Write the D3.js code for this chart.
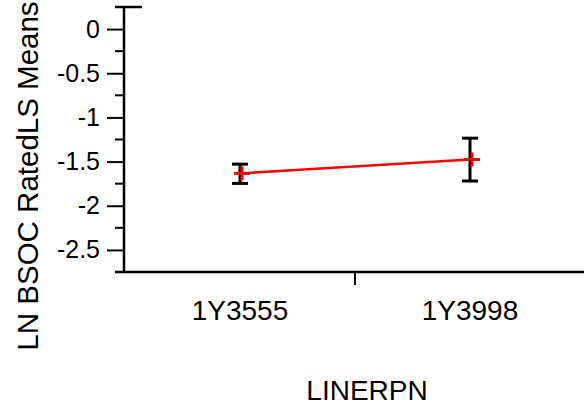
<!DOCTYPE html>
<html><head><meta charset="utf-8">
<script src="https://cdn.jsdelivr.net/npm/d3@7"></script>
<style>body{margin:0;background:#fff}svg{display:block}</style>
</head><body>
<script>
const categories = ["1Y3555", "1Y3998"];
const means = [-1.634, -1.476];
const upper = [-1.529, -1.235];
const lower = [-1.747, -1.720];
const yTicks = [0, -0.5, -1, -1.5, -2, -2.5];
const yMinorTicks = [0.25, -0.25, -0.75, -1.25, -1.75, -2.25, -2.75];
const xTitle = "LINERPN";
const yTitle = "LN BSOC RatedLS Means";

const W = 584, H = 406;
const svg = d3.select("body").append("svg").attr("width", W).attr("height", H);
const font = "Liberation Sans, Arial, sans-serif";

const x = d3.scalePoint().domain(categories).range([240, 470]).padding(0);
const y = d3.scaleLinear().domain([-2.75, 0.25]).range([272, 7]);

const left = 124;

// Y axis
const yAxis = svg.append("g").attr("transform", `translate(${left},0)`)
  .call(d3.axisLeft(y).tickValues(yTicks).tickSize(17).tickPadding(7)
    .tickFormat(d => d3.format("")(d).replace("−", "-")));
yAxis.select(".domain").remove();
yAxis.selectAll(".tick line").attr("stroke", "#000").attr("stroke-width", 2);
yAxis.selectAll(".tick text").attr("font-family", font).attr("font-size", 25).attr("fill", "#000");
yAxis.selectAll(".minor").data(yMinorTicks).enter().append("line")
  .attr("x1", -9).attr("x2", 0).attr("y1", d => y(d)).attr("y2", d => y(d))
  .attr("stroke", "#000").attr("stroke-width", 2);
svg.append("line").attr("x1", left).attr("x2", left).attr("y1", y(0.25)).attr("y2", y(-2.75))
  .attr("stroke", "#000").attr("stroke-width", 2.5);

// X axis
svg.append("line").attr("x1", 115).attr("x2", W).attr("y1", y(-2.75)).attr("y2", y(-2.75))
  .attr("stroke", "#000").attr("stroke-width", 2.5);
svg.append("line").attr("x1", 115).attr("x2", 142).attr("y1", y(0.25)).attr("y2", y(0.25))
  .attr("stroke", "#000").attr("stroke-width", 2.5);
const mid = (x(categories[0]) + x(categories[1])) / 2;
svg.append("line").attr("x1", mid).attr("x2", mid).attr("y1", y(-2.75)).attr("y2", y(-2.75) + 13)
  .attr("stroke", "#000").attr("stroke-width", 2);
svg.selectAll(".xlab").data(categories).enter().append("text")
  .attr("x", d => x(d)).attr("y", 320).attr("text-anchor", "middle")
  .attr("font-family", font).attr("font-size", 28).text(d => d);

// Titles
svg.append("text").attr("x", 367).attr("y", 400).attr("text-anchor", "middle")
  .attr("font-family", font).attr("font-size", 28).text(xTitle);
svg.append("text").attr("transform", "translate(38,176) rotate(-90)").attr("text-anchor", "middle")
  .attr("font-family", font).attr("font-size", 29.5).text(yTitle);

// Error bars
const g = svg.append("g");
categories.forEach((c, i) => {
  const cx = x(c);
  g.append("line").attr("x1", cx).attr("x2", cx).attr("y1", y(upper[i])).attr("y2", y(lower[i]))
    .attr("stroke", "#000").attr("stroke-width", 3);
  [upper[i], lower[i]].forEach(v => {
    g.append("line").attr("x1", cx - 8).attr("x2", cx + 8).attr("y1", y(v)).attr("y2", y(v))
      .attr("stroke", "#000").attr("stroke-width", 3);
  });
});

// Mean line
const line = d3.line().x((d, i) => x(categories[i])).y(d => y(d));
svg.append("path").datum(means).attr("d", line).attr("fill", "none")
  .attr("stroke", "#ff0000").attr("stroke-width", 2.5);
categories.forEach((c, i) => {
  const cx = x(c) + 2, cy = y(means[i]);
  svg.append("line").attr("x1", cx - 8).attr("x2", cx + 8).attr("y1", cy).attr("y2", cy)
    .attr("stroke", "#ff0000").attr("stroke-width", 3);
  svg.append("line").attr("x1", cx).attr("x2", cx).attr("y1", cy - 7).attr("y2", cy + 7)
    .attr("stroke", "#ff0000").attr("stroke-width", 3);
});
</script>
</body></html>
